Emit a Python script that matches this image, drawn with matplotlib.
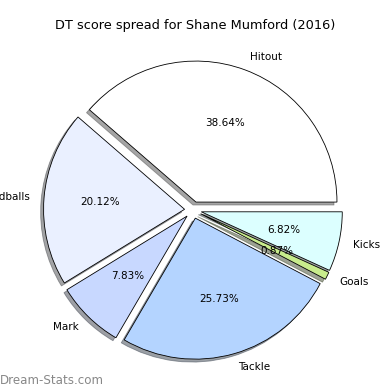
import matplotlib
matplotlib.use('Agg')
import matplotlib.pyplot as plt

# DT score breakdown
labels = ['Hitout', 'Handballs', 'Mark', 'Tackle', 'Goals', 'Kicks']
values = [38.64, 20.12, 7.83, 25.73, 0.87, 6.82]
colors = ['#ffffff', '#eaf0ff', '#c8d8ff', '#b4d4ff', '#c8ec8c', '#dcffff']

fig = plt.figure(figsize=(5.2, 5.2), dpi=75)
ax = fig.add_axes([0, 0, 1, 1])

ax.pie(values, labels=labels, colors=colors, explode=[0.06] * len(values),
       autopct='%1.2f%%', shadow=True, startangle=0,
       wedgeprops={'edgecolor': 'black', 'linewidth': 0.8},
       textprops={'fontsize': 10})

# place pie where it sits in the original picture
s = 141.0
ax.set_xlim(-193 / s, (390 - 193) / s)
ax.set_ylim(-(390 - 210) / s, 210 / s)
ax.axis('off')

fig.text(0.5, 1 - 25 / 390, 'DT score spread for Shane Mumford (2016)',
         ha='center', va='center', fontsize=12.4)
fig.text(0.0, 10 / 390, 'Dream-Stats.com', ha='left', va='center',
         fontsize=11.4, color='#888888')

fig.savefig('out.png', dpi=75)
